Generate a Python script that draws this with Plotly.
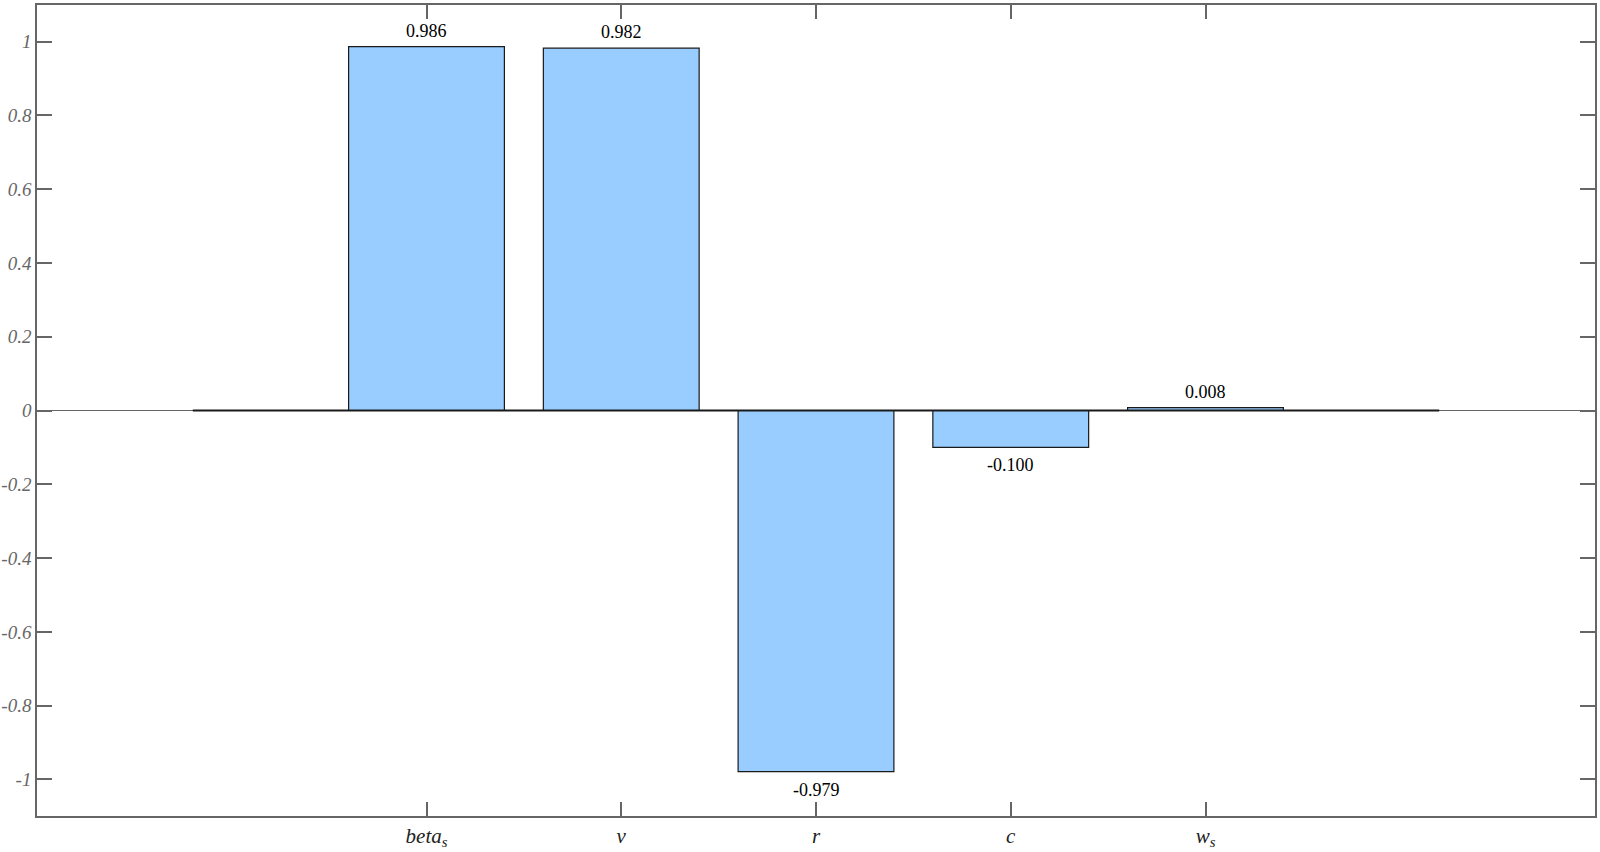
import plotly.graph_objects as go

categories = ["beta<sub>s</sub>", "v", "r", "c", "w<sub>s</sub>"]
values = [0.986, 0.982, -0.979, -0.100, 0.008]
value_labels = ["0.986", "0.982", "-0.979", "-0.100", "0.008"]
ytick_vals = [1, 0.8, 0.6, 0.4, 0.2, 0, -0.2, -0.4, -0.6, -0.8, -1]
ytick_text = ["1", "0.8", "0.6", "0.4", "0.2", "0", "-0.2", "-0.4", "-0.6", "-0.8", "-1"]

positions = list(range(1, len(categories) + 1))

fig = go.Figure()
fig.add_trace(go.Bar(
    x=positions, y=values, width=0.8,
    marker=dict(color="#99CCFF", line=dict(color="#1a1a1a", width=1.2)),
    showlegend=False, hoverinfo="x+y",
))

# value labels above / below each bar
for xp, v, lab in zip(positions, values, value_labels):
    fig.add_annotation(
        x=xp, y=v, text=lab, showarrow=False,
        yanchor="bottom" if v >= 0 else "top",
        yshift=4 if v >= 0 else -6,
        font=dict(family="Liberation Serif", size=18, color="#000000"),
    )

# dark baseline spanning the (empty) outer category slots
fig.add_shape(type="line", xref="x", yref="y",
              x0=positions[0] - 1.2, x1=positions[-1] + 1.2, y0=0, y1=0,
              line=dict(color="#1a1a1a", width=2), layer="above")

fig.update_layout(
    width=1600, height=852,
    margin=dict(l=37, r=5, t=5, b=36),
    paper_bgcolor="white", plot_bgcolor="white",
    bargap=0.2,
)
fig.update_xaxes(
    range=[-1, 7], tickvals=positions,
    ticktext=[f"<i>{c}</i>" for c in categories],
    ticks="inside", ticklen=14, tickcolor="#666666", tickwidth=1.5,
    showline=True, linecolor="#666666", linewidth=1.5, mirror="ticks",
    showgrid=False, zeroline=False, automargin=False,
    tickfont=dict(family="Liberation Serif", size=21, color="#222222"),
)
fig.update_yaxes(
    range=[-1.099, 1.099], tickvals=ytick_vals, ticktext=ytick_text,
    ticks="inside", ticklen=15, tickcolor="#666666", tickwidth=1.5,
    showline=True, linecolor="#666666", linewidth=1.5, mirror="ticks",
    showgrid=False, zeroline=True, zerolinecolor="#666666", zerolinewidth=1,
    automargin=False, ticklabelstandoff=0,
    tickfont=dict(family="Liberation Serif", size=19, color="#666666", style="italic"),
)

fig.write_html("out.html", config={"displayModeBar": False},
               post_script="document.body.style.margin='0';")
